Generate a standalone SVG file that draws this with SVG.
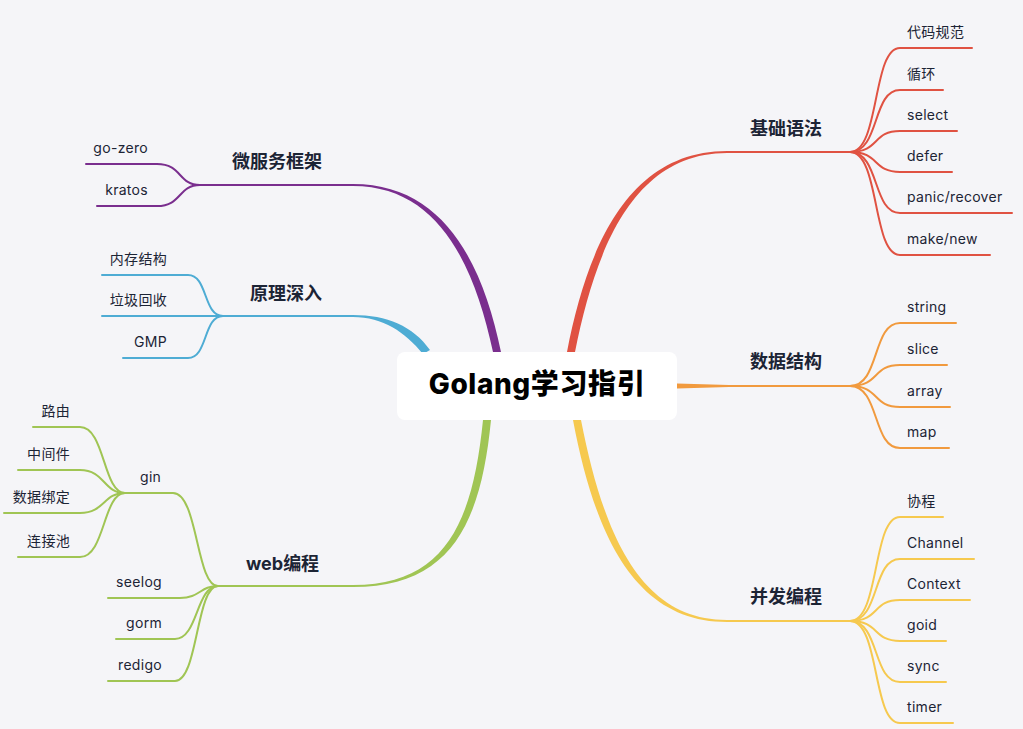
<svg xmlns="http://www.w3.org/2000/svg" width="1023" height="729" viewBox="0 0 1023 729">
<style>
text{font-family:"Inter","Noto Sans CJK SC",sans-serif;fill:#1c2435}
.c{font-size:14px;letter-spacing:0.3px}
.m{font-size:18px;font-weight:bold}
.r{text-anchor:end}
.ln{fill:none;stroke-width:2;stroke-linecap:round}
.red{stroke:#e05242}.ora{stroke:#f19a3e}.yel{stroke:#f6c94f}
.pur{stroke:#7a2e8e}.blu{stroke:#4eacd4}.grn{stroke:#a0c554}
</style>
<rect width="1023" height="729" fill="#f5f5f8"/>
<g id="connectors">
<!-- thick tapered main branches -->
<path d="M567,352 C587,248 628,151 727,151 L727,153 C632,153 595,252 575,352 Z" fill="#e05242"/>
<path d="M677,383.5 L729,385 L729,387 L677,388.5 Z" fill="#f19a3e"/>
<path d="M573,420 C596,542 638,622 727,622 L727,620 C642,620 604,538 581,420 Z" fill="#f6c94f"/>
<path d="M501,352 C482,260 442,184 353,184 L353,186 C438,186 474,264 493,352 Z" fill="#7a2e8e"/>
<path d="M430,350 C413,326 387,315 353,315 L353,317 C383,317 405,332 423,354 Z" fill="#4eacd4"/>
<path d="M491,420 C481,522 452,587 353,587 L353,585 C448,585 473,518 483,420 Z" fill="#a0c554"/>
<!-- level-2 horizontals -->
<path class="ln red" d="M727,152 H850"/>
<path class="ln ora" d="M729,386 H850"/>
<path class="ln yel" d="M727,621 H850"/>
<path class="ln pur" d="M353,185 H200"/>
<path class="ln blu" d="M353,316 H223"/>
<path class="ln grn" d="M353,586 H218"/>
<!-- 基础语法 children -->
<path class="ln red" d="M850,152 C880,152 872,48 900,48 H972"/>
<path class="ln red" d="M850,152 C880,152 872,90 900,90 H943"/>
<path class="ln red" d="M850,152 C880,152 872,131 900,131 H957"/>
<path class="ln red" d="M850,152 C880,152 872,172 900,172 H952"/>
<path class="ln red" d="M850,152 C880,152 872,213 900,213 H1012"/>
<path class="ln red" d="M850,152 C880,152 872,255 900,255 H990"/>
<!-- 数据结构 children -->
<path class="ln ora" d="M850,386 C880,386 872,323 900,323 H956"/>
<path class="ln ora" d="M850,386 C880,386 872,365 900,365 H947"/>
<path class="ln ora" d="M850,386 C880,386 872,407 900,407 H950"/>
<path class="ln ora" d="M850,386 C880,386 872,448 900,448 H949"/>
<!-- 并发编程 children -->
<path class="ln yel" d="M850,621 C880,621 872,517 900,517 H943"/>
<path class="ln yel" d="M850,621 C880,621 872,559 900,559 H974"/>
<path class="ln yel" d="M850,621 C880,621 872,600 900,600 H970"/>
<path class="ln yel" d="M850,621 C880,621 872,641 900,641 H946"/>
<path class="ln yel" d="M850,621 C880,621 872,682 900,682 H946"/>
<path class="ln yel" d="M850,621 C880,621 872,723 900,723 H953"/>
<!-- 微服务框架 children -->
<path class="ln pur" d="M200,185 C178,185 182,164 157,164 H86"/>
<path class="ln pur" d="M200,185 C178,185 182,206 157,206 H97"/>
<!-- 原理深入 children -->
<path class="ln blu" d="M223,316 C203,316 208,275 188,275 H102"/>
<path class="ln blu" d="M223,316 H102"/>
<path class="ln blu" d="M223,316 C203,316 208,358 188,358 H123"/>
<!-- web编程 children -->
<path class="ln grn" d="M218,586 C196,586 198,493 173,493 H125"/>
<path class="ln grn" d="M218,586 C200,586 200,598 180,598 H108"/>
<path class="ln grn" d="M218,586 C196,586 198,639 175,639 H116"/>
<path class="ln grn" d="M218,586 C196,586 198,681 175,681 H108"/>
<!-- gin children -->
<path class="ln grn" d="M125,493 C103,493 105,427 80,427 H33"/>
<path class="ln grn" d="M125,493 C103,493 105,470 80,470 H18"/>
<path class="ln grn" d="M125,493 C103,493 105,513 80,513 H4"/>
<path class="ln grn" d="M125,493 C103,493 105,557 80,557 H18"/>
</g>
<g id="root">
<rect x="397" y="352" width="280" height="68" rx="8" fill="#ffffff"/>
<text x="537" y="394" text-anchor="middle" font-size="28" font-weight="800" letter-spacing="0.6" style="fill:#000">Golang学习指引</text>
</g>
<g id="n-jichu"><text class="m" x="750" y="135">基础语法</text></g>
<g id="n-daima"><text class="c" x="907" y="37">代码规范</text></g>
<g id="n-xunhuan"><text class="c" x="907" y="79">循环</text></g>
<g id="n-select"><text class="c" x="907" y="120">select</text></g>
<g id="n-defer"><text class="c" x="907" y="161">defer</text></g>
<g id="n-panic"><text class="c" x="907" y="202">panic/recover</text></g>
<g id="n-make"><text class="c" x="907" y="244">make/new</text></g>
<g id="n-shuju"><text class="m" x="750" y="368">数据结构</text></g>
<g id="n-string"><text class="c" x="907" y="312">string</text></g>
<g id="n-slice"><text class="c" x="907" y="354">slice</text></g>
<g id="n-array"><text class="c" x="907" y="396">array</text></g>
<g id="n-map"><text class="c" x="907" y="437">map</text></g>
<g id="n-bingfa"><text class="m" x="750" y="603">并发编程</text></g>
<g id="n-xiecheng"><text class="c" x="907" y="506">协程</text></g>
<g id="n-channel"><text class="c" x="907" y="548">Channel</text></g>
<g id="n-context"><text class="c" x="907" y="589">Context</text></g>
<g id="n-goid"><text class="c" x="907" y="630">goid</text></g>
<g id="n-sync"><text class="c" x="907" y="671">sync</text></g>
<g id="n-timer"><text class="c" x="907" y="712">timer</text></g>
<g id="n-weifuwu"><text class="m" x="232" y="168">微服务框架</text></g>
<g id="n-gozero"><text class="c r" x="148" y="153">go-zero</text></g>
<g id="n-kratos"><text class="c r" x="148" y="195">kratos</text></g>
<g id="n-yuanli"><text class="m" x="250" y="300">原理深入</text></g>
<g id="n-neicun"><text class="c r" x="167" y="264">内存结构</text></g>
<g id="n-laji"><text class="c r" x="167" y="305">垃圾回收</text></g>
<g id="n-gmp"><text class="c r" x="167" y="347">GMP</text></g>
<g id="n-web"><text class="m" x="246" y="570">web编程</text></g>
<g id="n-gin"><text class="c" x="140" y="482">gin</text></g>
<g id="n-luyou"><text class="c r" x="70" y="416">路由</text></g>
<g id="n-zhongjian"><text class="c r" x="70" y="459">中间件</text></g>
<g id="n-bangding"><text class="c r" x="70" y="502">数据绑定</text></g>
<g id="n-lianjie"><text class="c r" x="70" y="546">连接池</text></g>
<g id="n-seelog"><text class="c r" x="162" y="587">seelog</text></g>
<g id="n-gorm"><text class="c r" x="162" y="628">gorm</text></g>
<g id="n-redigo"><text class="c r" x="162" y="670">redigo</text></g>
</svg>
